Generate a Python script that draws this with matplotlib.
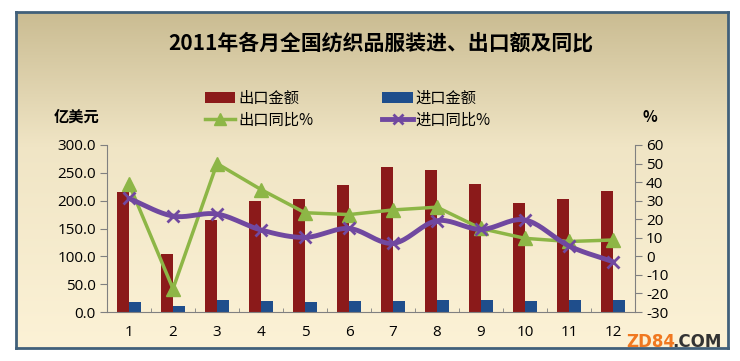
import numpy as np
import matplotlib
matplotlib.use("Agg")
import matplotlib.pyplot as plt
from matplotlib.lines import Line2D
from matplotlib.patches import Patch, Rectangle
from matplotlib.colors import LinearSegmentedColormap

plt.rcParams['font.family'] = ['Noto Sans CJK SC', 'DejaVu Sans']

# ---- data ----
months = ['1', '2', '3', '4', '5', '6', '7', '8', '9', '10', '11', '12']
export_amt = [216, 104, 165, 200, 203, 228, 261, 255, 230, 196, 203, 217]
import_amt = [18.5, 11, 21, 20, 18, 20, 19, 21, 21, 19, 21, 21]
export_yoy = [39.0, -17.5, 50.0, 36.0, 23.5, 22.5, 25.0, 26.5, 15.0, 9.7, 8.0, 8.8]
import_yoy = [31.2, 21.7, 22.8, 14.2, 10.2, 15.0, 7.0, 19.2, 14.5, 19.6, 5.6, -2.9]

title = '2011年各月全国纺织品服装进、出口额及同比'
left_label = '亿美元'
right_label = '%'
left_ticks = [0, 50, 100, 150, 200, 250, 300]
right_ticks = [-30, -20, -10, 0, 10, 20, 30, 40, 50, 60]

C_EXP = '#8B1A1A'
C_IMP = '#1F4E8C'
C_GRN = '#8DB646'
C_PUR = '#7048A0'

W, H = 740, 361
fig = plt.figure(figsize=(W / 100, H / 100), dpi=100, facecolor='white')

def fx(px):
    return px / W

def fy(py):
    return 1 - py / H

# background frame with gradient
fl, fr, ft, fb = 16, 728, 12, 348
bg = fig.add_axes([fx(fl), fy(fb), fx(fr - fl), (fb - ft) / H], zorder=0)
cmap = LinearSegmentedColormap.from_list('bg', [
    (0.0, (202/255, 188/255, 146/255)),
    (0.4, (240/255, 229/255, 197/255)),
    (1.0, (252/255, 242/255, 214/255))])
grad = np.linspace(0, 1, 256).reshape(-1, 1)
bg.imshow(grad, aspect='auto', cmap=cmap, extent=[0, 1, 0, 1], origin='upper')
bg.set_xlim(0, 1); bg.set_ylim(0, 1)
bg.set_xticks([]); bg.set_yticks([])
for s in bg.spines.values():
    s.set_color('#41607A'); s.set_linewidth(2)

# plot area
pl, pr, pt, pb = 107, 635, 145, 312
ax = fig.add_axes([fx(pl), fy(pb), fx(pr - pl), (pb - pt) / H], zorder=2)
ax.patch.set_visible(False)
x = np.arange(len(months))
w = 0.28
ax.bar(x - w / 2, export_amt, width=w, color=C_EXP, zorder=2)
ax.bar(x + w / 2, import_amt, width=w, color=C_IMP, zorder=2)
ax.set_xlim(-0.5, len(months) - 0.5)
ax.set_ylim(0, 300)
ax.set_yticks(left_ticks)
ax.set_yticklabels([f'{v:.1f}' for v in left_ticks], fontsize=11, family='Open Sans')
ax.set_xticks(x)
ax.set_xticklabels(months, fontsize=11, family='Open Sans')
ax.tick_params(axis='x', length=0, pad=9)
ax.set_xticks(np.arange(-0.5, len(months), 1), minor=True)
ax.tick_params(axis='x', which='minor', direction='in', length=3, color='#808080')
ax.tick_params(axis='y', length=5, color='#808080', pad=3)
for s in ['top', 'right']:
    ax.spines[s].set_visible(False)
for s in ['left', 'bottom']:
    ax.spines[s].set_color('#808080')

ax2 = ax.twinx()
ax2.patch.set_visible(False)
ax2.set_ylim(-30, 60)
ax2.set_yticks(right_ticks)
ax2.set_yticklabels([str(v) for v in right_ticks], fontsize=11, family='Open Sans')
ax2.tick_params(axis='y', length=5, color='#808080', pad=3)
for s in ['top', 'left', 'bottom']:
    ax2.spines[s].set_visible(False)
ax2.spines['right'].set_color('#808080')

# export yoy: straight line with triangles
ax2.plot(x, export_yoy, color=C_GRN, lw=2.5, marker='^', markersize=10,
         markeredgecolor=C_GRN, zorder=3)

# import yoy: smoothed line (Catmull-Rom) with x markers
def catmull(xs, ys, n=20):
    px = np.concatenate([[2 * xs[0] - xs[1]], xs, [2 * xs[-1] - xs[-2]]])
    py = np.concatenate([[2 * ys[0] - ys[1]], ys, [2 * ys[-1] - ys[-2]]])
    ox, oy = [], []
    for i in range(1, len(px) - 2):
        t = np.linspace(0, 1, n, endpoint=False)
        for arr, out in ((px, ox), (py, oy)):
            p0, p1, p2, p3 = arr[i - 1], arr[i], arr[i + 1], arr[i + 2]
            out.extend(0.5 * ((2 * p1) + (-p0 + p2) * t +
                              (2 * p0 - 5 * p1 + 4 * p2 - p3) * t ** 2 +
                              (-p0 + 3 * p1 - 3 * p2 + p3) * t ** 3))
    ox.append(xs[-1]); oy.append(ys[-1])
    return np.array(ox), np.array(oy)

sx, sy = catmull(x.astype(float), np.array(import_yoy, dtype=float))
ax2.plot(sx, sy, color=C_PUR, lw=3.5, zorder=4, solid_capstyle='round')
ax2.plot(x, import_yoy, linestyle='none', marker='x', markersize=9,
         markeredgewidth=2, color=C_PUR, zorder=4)

# title and axis labels
fig.text(fx(381), fy(43), title, ha='center', va='center', fontsize=15,
         fontweight='bold', zorder=5)
fig.text(fx(77), fy(117), left_label, ha='center', va='center', fontsize=11,
         fontweight='bold', zorder=5)
fig.text(fx(650), fy(117), right_label, ha='center', va='center', fontsize=11,
         fontweight='bold', zorder=5)

handles = [
    Patch(facecolor=C_EXP, label='出口金额'),
    Line2D([], [], color=C_GRN, lw=2.5, marker='^', markersize=8, label='出口同比%'),
    Patch(facecolor=C_IMP, label='进口金额'),
    Line2D([], [], color=C_PUR, lw=3.5, marker='x', markersize=7, markeredgewidth=2,
           label='进口同比%'),
]
leg = fig.legend(handles=handles, ncol=2, loc='upper left',
                 bbox_to_anchor=(fx(191), fy(76)), frameon=False, fontsize=11,
                 handlelength=2.0, handletextpad=0.2, columnspacing=4.5,
                 labelspacing=0.3)
leg.set_zorder(5)

# watermark
fig.text(fx(626), fy(342), 'ZD84', ha='left', va='center', fontsize=12,
         fontweight='bold', color='#F07820', family='DejaVu Sans', zorder=6)
fig.text(fx(672), fy(342), '.COM', ha='left', va='center', fontsize=12,
         fontweight='bold', color='#333333', family='DejaVu Sans', zorder=6)

fig.savefig('out.png', dpi=100, facecolor='white')
